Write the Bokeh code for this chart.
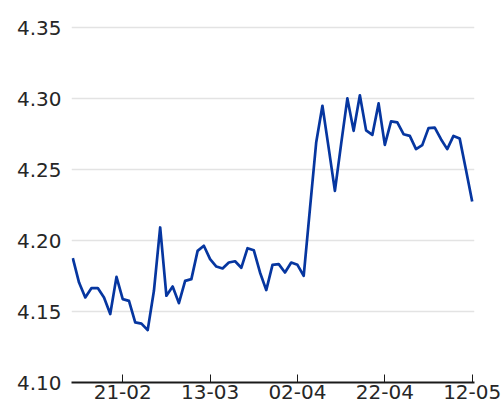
from bokeh.plotting import figure
from bokeh.models import FixedTicker, Range1d, NumeralTickFormatter
from bokeh.embed import file_html
from bokeh.resources import INLINE

values = [
    4.1876, 4.1704, 4.1599, 4.1665, 4.1665, 4.1599, 4.1482, 4.1744, 4.1587, 4.1575,
    4.1423, 4.1415, 4.1369, 4.1646, 4.2092, 4.1611, 4.1676, 4.1559, 4.1716, 4.1728,
    4.1927, 4.1963, 4.1869, 4.1817, 4.1803, 4.1845, 4.1854, 4.1808, 4.1946, 4.1932,
    4.1775, 4.1651, 4.1829, 4.1834, 4.1775, 4.1845, 4.1829, 4.1751, 4.2223, 4.2690,
    4.2949, 4.2653, 4.2350, 4.2681, 4.3001, 4.2773, 4.3023, 4.2776, 4.2744, 4.2966,
    4.2674, 4.2839, 4.2832, 4.2749, 4.2737, 4.2644, 4.2672, 4.2792, 4.2796, 4.2714,
    4.2644, 4.2737, 4.2718, 4.2498, 4.2275,
]
x_index = list(range(len(values)))

x_tick_positions = [8, 22, 36, 50, 64]
x_tick_labels = ["21-02", "13-03", "02-04", "22-04", "12-05"]
y_ticks = [4.10, 4.15, 4.20, 4.25, 4.30, 4.35]

FONT = "DejaVu Sans"
TEXT = "#262626"

p = figure(
    width=504, height=412,
    output_backend="svg", toolbar_location=None,
    x_range=Range1d(-0.21, 64.37), y_range=Range1d(4.10, 4.355),
    min_border_left=71, min_border_right=30, min_border_top=20, min_border_bottom=30,
)
p.outline_line_color = None
p.background_fill_color = "white"
p.border_fill_color = "white"

p.line(x_index, values, line_color="#0636a0", line_width=2.7, line_join="round")

# x axis
xa = p.xaxis[0]
xa.ticker = FixedTicker(ticks=x_tick_positions)
xa.major_label_overrides = {pos: lab for pos, lab in zip(x_tick_positions, x_tick_labels)}
xa.major_tick_in = 8
xa.major_tick_out = 0
xa.minor_tick_line_color = None
xa.axis_line_color = "#1a1a1a"
xa.axis_line_width = 2
xa.major_tick_line_color = "#1a1a1a"
xa.major_tick_line_width = 1
xa.major_label_text_font = FONT
xa.major_label_text_font_size = "20px"
xa.major_label_text_color = TEXT
xa.major_label_standoff = 2

# y axis
ya = p.yaxis[0]
ya.ticker = FixedTicker(ticks=y_ticks)
ya.formatter = NumeralTickFormatter(format="0.00")
ya.axis_line_color = None
ya.major_tick_line_color = None
ya.minor_tick_line_color = None
ya.major_label_text_font = FONT
ya.major_label_text_font_size = "20px"
ya.major_label_text_color = TEXT
ya.major_label_standoff = 4

p.xgrid.grid_line_color = None
p.ygrid.ticker = FixedTicker(ticks=y_ticks[1:])
p.ygrid.grid_line_color = "#e3e3e3"
p.ygrid.grid_line_width = 1.5

open("out.html", "w").write(file_html(p, INLINE))
